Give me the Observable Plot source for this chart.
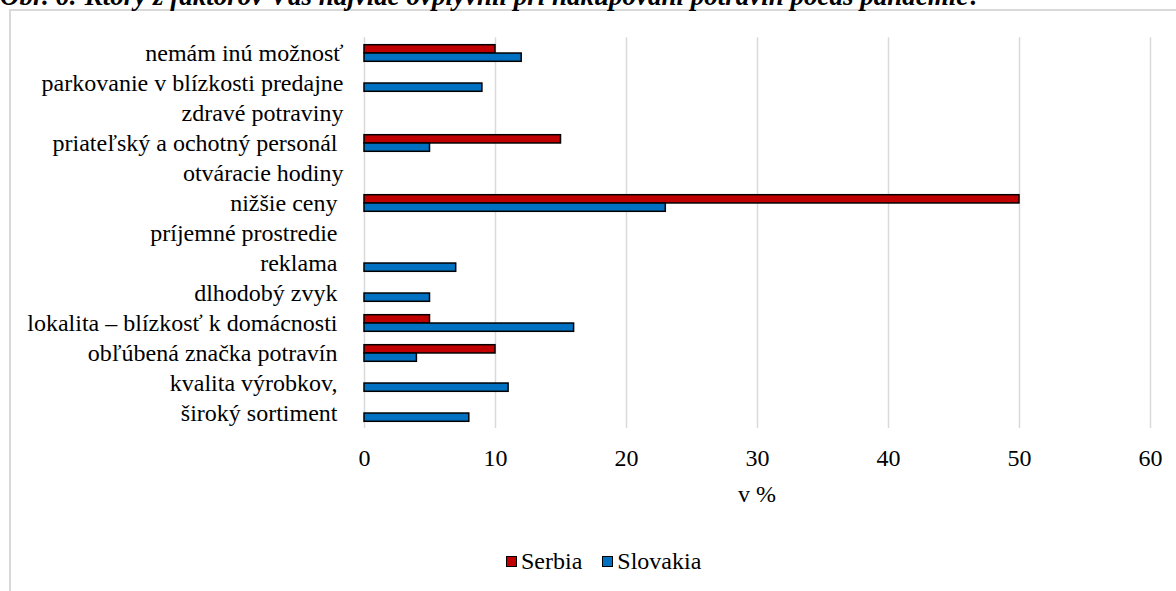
<!DOCTYPE html>
<html>
<head>
<meta charset="utf-8">
<script src="https://cdn.jsdelivr.net/npm/d3@7"></script>
<script src="https://cdn.jsdelivr.net/npm/@observablehq/plot@0.6"></script>
<style>
  html, body { margin: 0; padding: 0; background: #fff; }
  #wrap { position: relative; width: 1176px; height: 591px; overflow: hidden;
          font-family: "Liberation Serif", "Times New Roman", serif; color: #000; }
  #frame { position: absolute; left: 9px; top: 9px; width: 1400px; height: 800px;
           border-left: 2px solid #d9d9d9; border-top: 2px solid #d9d9d9; }
  #title { position: absolute; left: 0; top: -17.5px; font-size: 27px; line-height: 27px;
           font-weight: bold; font-style: italic; white-space: nowrap; }
  #chart { position: absolute; left: 0; top: 0; }
  #xlabel { position: absolute; left: 657px; width: 200px; top: 482px; text-align: center;
            font-size: 24px; line-height: 24px; white-space: pre; }
  #legend { position: absolute; left: 506px; top: 549px; height: 24px; display: flex;
            align-items: center; font-size: 24px; line-height: 24px; white-space: nowrap; }
  .sw { display: inline-block; width: 9px; height: 9px; border: 1.5px solid #000; margin-right: 4px; }
  .item { display: flex; align-items: center; }
  .item + .item { margin-left: 20px; }
</style>
</head>
<body>
<div id="wrap">
  <div id="frame"></div>
  <div id="title"></div>
  <div id="chart"></div>
  <div id="xlabel"></div>
  <div id="legend"></div>
</div>
<script>
const titleText = "Obr. 6: Ktorý z faktorov Vás najviac ovplyvnil pri nakupovaní potravín počas pandemie?";
const xAxisLabel = "v %";

const categories = [
  "nemám inú možnosť",
  "parkovanie v blízkosti predajne",
  "zdravé potraviny",
  "priateľský a ochotný personál ",
  "otváracie hodiny",
  "nižšie ceny ",
  "príjemné prostredie ",
  "reklama ",
  "dlhodobý zvyk ",
  "lokalita – blízkosť k domácnosti ",
  "obľúbená značka potravín ",
  "kvalita výrobkov, ",
  "široký sortiment "
];
const serbia   = [10, 0, 0, 15, 0, 50, 0, 0, 0, 5, 10, 0, 0];
const slovakia = [12, 9, 0, 5, 0, 23, 0, 7, 5, 16, 4, 11, 8];
const seriesNames = ["Serbia", "Slovakia"];
const seriesColors = ["#c00000", "#0070c0"];
const xTicks = [0, 10, 20, 30, 40, 50, 60];

const serbiaRows = categories.map((c, i) => ({cat: c, series: seriesNames[0], value: serbia[i]})).filter(d => d.value > 0);
const slovakiaRows = categories.map((c, i) => ({cat: c, series: seriesNames[1], value: slovakia[i]})).filter(d => d.value > 0);

const plot = Plot.plot({
  width: 1176,
  height: 480,
  marginLeft: 364,
  marginRight: 26,
  marginTop: 37.3,
  marginBottom: 52,
  style: {fontFamily: '"Liberation Serif", "Times New Roman", serif', fontSize: "24px", color: "#000", background: "transparent", overflow: "visible"},
  x: {domain: [0, 60], ticks: xTicks, tickSize: 0, tickPadding: 20, label: null},
  y: {domain: categories, padding: 0, tickSize: 0, tickPadding: 21, label: null,
      tickFormat: d => d.replace(/ $/, "\u00a0")},
  color: {domain: seriesNames, range: seriesColors},
  marks: [
    Plot.ruleX(xTicks, {stroke: "#d9d9d9", strokeWidth: 1.5}),
    Plot.barX(serbiaRows, {x1: 0, x2: "value", y: "cat", fill: "series", stroke: "#000", strokeWidth: 1.5, insetTop: 6.7, insetBottom: 15.03}),
    Plot.barX(slovakiaRows, {x1: 0, x2: "value", y: "cat", fill: "series", stroke: "#000", strokeWidth: 1.5, insetTop: 15.03, insetBottom: 6.7})
  ]
});
document.getElementById("chart").appendChild(plot);
document.getElementById("title").textContent = titleText;
document.getElementById("xlabel").textContent = xAxisLabel;

const legend = document.getElementById("legend");
seriesNames.forEach((name, i) => {
  const item = document.createElement("span");
  item.className = "item";
  const sw = document.createElement("span");
  sw.className = "sw";
  sw.style.background = seriesColors[i];
  const t = document.createElement("span");
  t.textContent = name;
  item.appendChild(sw);
  item.appendChild(t);
  legend.appendChild(item);
});
</script>
</body>
</html>
